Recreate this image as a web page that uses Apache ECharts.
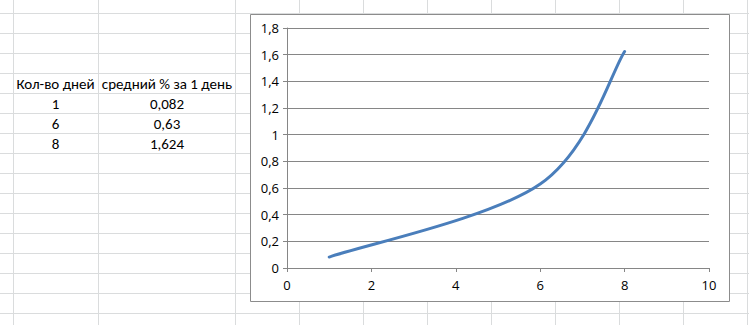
<!DOCTYPE html>
<html><head><meta charset="utf-8">
<script src="https://cdn.jsdelivr.net/npm/echarts@6/dist/echarts.min.js"></script>
<style>html,body{margin:0;padding:0;background:#fff}#c{width:749px;height:325px}</style>
</head><body><div id="c"></div>
<script>
const headers = ['Кол-во дней', 'средний % за 1 день'];
const days = [1, 6, 8];
const pct = [0.082, 0.63, 1.624];
const pctText = ['0,082', '0,63', '1,624'];
const xTicks = [0, 2, 4, 6, 8, 10];
const yTicks = [0, 0.2, 0.4, 0.6, 0.8, 1, 1.2, 1.4, 1.6, 1.8];

const chart = echarts.init(document.getElementById('c'), null, {renderer: 'svg'});
const W = 749, H = 325;
const gridColor = '#dadcdd';
const rowYs = []; for (let y = 13.5; y < H; y += 20) rowYs.push(y);
const colXs = [13.5, 98.5, 235.5]; for (let x = 299.5; x < W + 64; x += 64) colXs.push(x);
const cellLines = [];
rowYs.forEach(y => cellLines.push({type:'line', silent:true, z:-10, shape:{x1:0,y1:y,x2:W,y2:y}, style:{stroke:gridColor, lineWidth:1}}));
colXs.forEach(x => cellLines.push({type:'line', silent:true, z:-10, shape:{x1:x,y1:0,x2:x,y2:H}, style:{stroke:gridColor, lineWidth:1}}));
const font = '15px Carlito, Calibri, "Open Sans", sans-serif';
const txt = (t, x, y) => ({type:'text', silent:true, z:5, x, y, style:{text:t, font, fill:'#000', align:'center', verticalAlign:'middle'}});
const tableEls = [txt(headers[0], 55.5, 83.5), txt(headers[1], 167, 83.5)];
days.forEach((d, i) => { tableEls.push(txt(String(d), 55.5, 103.5 + 20*i)); tableEls.push(txt(pctText[i], 167, 103.5 + 20*i)); });
const box = {type:'rect', silent:true, z:-5, shape:{x:250.5, y:14.5, width:479, height:287}, style:{fill:'#fff', stroke:'#8c8c8c', lineWidth:1}};

const fmt = v => String(+v.toFixed(1)).replace('.', ',');
const seriesData = days.map((d,i)=>[d,pct[i]]);

// Excel-style smoothed line: cubic Bezier with control points at 1/6 of neighbour span
function renderCurve(params, api) {
  if (params.dataIndex !== 0) return null;
  const P = seriesData.map(p => api.coord(p));
  const n = P.length;
  const get = i => P[Math.max(0, Math.min(n-1, i))];
  let d = 'M' + P[0][0] + ' ' + P[0][1];
  for (let i = 0; i < n-1; i++) {
    const p0 = get(i-1), p1 = get(i), p2 = get(i+1), p3 = get(i+2);
    const c1 = [p1[0] + (p2[0]-p0[0])/6, p1[1] + (p2[1]-p0[1])/6];
    const c2 = [p2[0] - (p3[0]-p1[0])/6, p2[1] - (p3[1]-p1[1])/6];
    d += ' C' + c1.join(' ') + ' ' + c2.join(' ') + ' ' + p2.join(' ');
  }
  return {type:'path', shape:{pathData:d}, style:{fill:'none', stroke:'#4a7ebb', lineWidth:3, lineCap:'round'}};
}

chart.setOption({
  animation:false,
  graphic: cellLines.concat([box]).concat(tableEls),
  grid:{left:287, right:40, top:28, bottom:57},
  xAxis:{type:'value', min:xTicks[0], max:xTicks[xTicks.length-1], interval:2,
    axisLine:{show:true, onZero:false, lineStyle:{color:'#868686', width:1}},
    axisTick:{show:true, length:4, lineStyle:{color:'#868686'}},
    splitLine:{show:false},
    axisLabel:{color:'#000', fontSize:13, fontFamily:'"Open Sans", sans-serif', margin:10}},
  yAxis:{type:'value', min:yTicks[0], max:yTicks[yTicks.length-1], interval:0.2,
    axisLine:{show:true, lineStyle:{color:'#868686', width:1}},
    axisTick:{show:true, length:4, lineStyle:{color:'#868686'}},
    splitLine:{show:true, lineStyle:{color:'#868686', width:1}},
    axisLabel:{color:'#000', fontSize:13, fontFamily:'"Open Sans", sans-serif', margin:8, formatter:fmt}},
  series:[{type:'custom', data: seriesData, renderItem: renderCurve, encode:{x:0, y:1}}]
});
</script></body></html>
